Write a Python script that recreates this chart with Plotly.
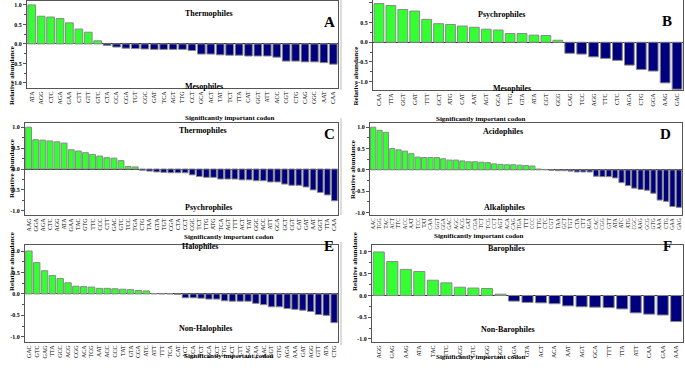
import plotly.graph_objects as go

W, H = 685, 368

codons_A = ["ATA","AGG","CTC","AGA","GAA","CTT","GTT","GTC","CTA","CCA","CGA","TGT","CGC","GAT","TCA","AGT","TTG","CCT","GCA","ACT","TAT","TCT","TTA","CAT","GGT","ATT","ACC","CGT","CTG","CAG","GGC","AAT","CAA"]
values_A = [1.0,0.71,0.69,0.65,0.54,0.38,0.30,0.08,-0.04,-0.08,-0.11,-0.12,-0.13,-0.14,-0.14,-0.14,-0.14,-0.17,-0.26,-0.26,-0.28,-0.29,-0.29,-0.31,-0.31,-0.31,-0.34,-0.44,-0.44,-0.46,-0.46,-0.48,-0.52]

codons_B = ["CAA","TTA","GGT","GAT","TTT","GCT","ATG","CAT","AAT","AGT","GCA","TTG","GTA","ATA","CGT","GCG","CAG","TCC","AGG","TTC","CTC","AGA","CTG","GGA","AAG","GAC"]
values_B = [0.98,0.93,0.83,0.79,0.58,0.47,0.45,0.41,0.38,0.33,0.31,0.22,0.22,0.18,0.17,0.05,-0.28,-0.30,-0.37,-0.41,-0.46,-0.58,-0.69,-0.73,-1.03,-1.19]

codons_C = ["AAG","GGA","AGA","CTC","AGG","ATA","GAA","TAC","GTG","TTC","CCC","CTT","GAC","GTC","TCC","TGA","CTG","TAA","GTA","TGT","CGA","CTA","CCT","CGC","TCT","TTG","ATG","TCA","AGT","TTT","ACT","TAT","GGC","ACC","ATT","GCA","GCT","CGT","CAT","GAT","AAT","GGT","TTA","CAA"]
values_C = [1.0,0.70,0.69,0.67,0.65,0.62,0.46,0.43,0.39,0.35,0.31,0.27,0.26,0.20,0.06,0.05,-0.03,-0.05,-0.07,-0.08,-0.09,-0.09,-0.09,-0.14,-0.18,-0.20,-0.20,-0.24,-0.24,-0.24,-0.26,-0.26,-0.28,-0.28,-0.31,-0.31,-0.36,-0.39,-0.39,-0.43,-0.50,-0.56,-0.62,-0.76]

codons_D = ["AAC","TGG","TAC","ACT","TTC","ACC","AAT","TCC","TAT","CAA","GGT","GGA","GAC","AGC","ACG","GAT","CGA","TCT","TCG","CCT","AGT","ACA","CAG","TGA","TTT","CCC","TTG","CTC","CGT","TAA","GCT","TGT","CTA","CTT","AGA","CAC","CGG","GTT","ATA","ATC","ATG","CGC","AAG","GCG","GTG","AAA","CTG","GAA","GAG"]
values_D = [1.0,0.93,0.88,0.50,0.47,0.44,0.38,0.30,0.29,0.29,0.29,0.26,0.23,0.23,0.21,0.19,0.19,0.18,0.17,0.14,0.13,0.12,0.12,0.11,0.10,0.09,0.02,0.01,-0.01,-0.02,-0.02,-0.03,-0.05,-0.05,-0.05,-0.15,-0.16,-0.16,-0.19,-0.30,-0.37,-0.43,-0.46,-0.48,-0.55,-0.71,-0.74,-0.86,-0.88]

codons_E = ["GAC","GTC","GAG","TTA","GCC","ACG","CGG","ACA","TCG","AAT","ACC","CCC","TAT","GTA","CGA","ATC","ATT","TTT","TCA","CAT","ACT","CCA","TCT","GCA","CCT","TTG","GCT","CTT","CAG","GAA","AAC","GGT","GTG","AGA","AAA","GAT","AGG","GTT","ATA","CTG"]
values_E = [1.0,0.73,0.54,0.43,0.36,0.26,0.18,0.17,0.16,0.13,0.13,0.12,0.11,0.10,0.08,0.07,0.01,0.005,0.005,-0.01,-0.09,-0.09,-0.10,-0.12,-0.12,-0.16,-0.17,-0.17,-0.17,-0.22,-0.25,-0.30,-0.30,-0.34,-0.36,-0.38,-0.41,-0.48,-0.50,-0.67]

codons_F = ["AGG","GAG","AAG","ATA","TAC","TTC","ACG","GTC","GGG","GCG","AGA","GTA","ACT","ACA","AAT","AGT","GCA","TTT","TTA","ATT","CAA","GAA","AAA"]
values_F = [1.0,0.78,0.60,0.55,0.35,0.29,0.19,0.17,0.16,0.03,-0.13,-0.16,-0.17,-0.19,-0.24,-0.26,-0.27,-0.28,-0.31,-0.40,-0.43,-0.45,-0.60]

panels = [
    dict(letter="A", codons=codons_A, values=values_A, top="Thermophiles", bottom="Mesophiles",
         box=(27, 338, 1, 88), yr=(-1.13, 1.1), toppos=(183, 7), botpos=(183, 80), ytitle_x=6, xtitle_y=112),
    dict(letter="B", codons=codons_B, values=values_B, top="Psychrophiles", bottom="Mesophiles",
         box=(373, 683, 0, 90), yr=(-1.21, 1.07), toppos=(527, 8), botpos=(533, 82), ytitle_x=355, xtitle_y=113),
    dict(letter="C", codons=codons_C, values=values_C, top="Thermophiles", bottom="Psychrophiles",
         box=(25, 338, 123, 215), yr=(-1.1, 1.1), toppos=(177, 130), botpos=(183, 208), ytitle_x=6, xtitle_y=237),
    dict(letter="D", codons=codons_D, values=values_D, top="Acidophiles", bottom="Alkaliphiles",
         box=(370, 682, 123, 215), yr=(-1.06, 1.1), toppos=(525, 131), botpos=(527, 208), ytitle_x=353, xtitle_y=236),
    dict(letter="E", codons=codons_E, values=values_E, top="Halophiles", bottom="Non-Halophiles",
         box=(25, 338, 245, 342), yr=(-1.12, 1.14), toppos=(180, 253), botpos=(177, 335), ytitle_x=6, xtitle_y=362),
    dict(letter="F", codons=codons_F, values=values_F, top="Barophiles", bottom="Non-Barophiles",
         box=(372, 683, 245, 342), yr=(-1.07, 1.16), toppos=(527, 255), botpos=(537, 336), ytitle_x=355, xtitle_y=363),
]

GREEN = "#33ff33"
NAVY = "#00007f"
SERIF = "Liberation Serif"

fig = go.Figure()
annotations = []
shapes = []

def px_x(p):
    return p / W

def px_y(p):
    return 1 - p / H

for i, p in enumerate(panels, start=1):
    xa = "x" if i == 1 else f"x{i}"
    ya = "y" if i == 1 else f"y{i}"
    colors = [GREEN if v > 0 else NAVY for v in p["values"]]
    fig.add_trace(go.Bar(
        x=p["codons"], y=p["values"], xaxis=xa, yaxis=ya,
        marker=dict(color=colors, line=dict(color="#8a8a8a", width=1)),
        showlegend=False, hoverinfo="x+y",
    ))
    x0, x1, y0, y1 = p["box"]
    xkey = "xaxis" if i == 1 else f"xaxis{i}"
    ykey = "yaxis" if i == 1 else f"yaxis{i}"
    fsize = 5.5 if len(p["codons"]) > 45 else 6
    fig.update_layout(**{
        xkey: dict(domain=[px_x(x0), px_x(x1)], anchor=ya, tickangle=-90, automargin=False,
                   tickmode="array", tickvals=p["codons"], ticktext=p["codons"],
                   tickfont=dict(family=SERIF, size=fsize, color="black"),
                   showline=True, mirror=True, linecolor="#555555", linewidth=1,
                   ticks="", showgrid=False, categoryorder="array", categoryarray=p["codons"]),
        ykey: dict(domain=[px_y(y1), px_y(y0)], anchor=xa, range=list(p["yr"]), automargin=False,
                   tickvals=[-1.0, -0.5, 0.0, 0.5, 1.0], ticktext=["-1.0", "-0.5", "0.0", "0.5", "1.0"],
                   tickfont=dict(family=SERIF, size=6, color="black", weight="bold"),
                   ticks="outside", ticklen=3, tickcolor="#555555",
                   minor=dict(ticks="outside", tickvals=[-0.75, -0.25, 0.25, 0.75], ticklen=2, tickcolor="#555555"),
                   showline=True, mirror=True, linecolor="#555555", linewidth=1,
                   showgrid=False, zeroline=True, zerolinecolor="#333333", zerolinewidth=1),
    })
    annotations.append(dict(text=f"<b>{p['top']}</b>", x=px_x(p["toppos"][0]), y=px_y(p["toppos"][1]),
                            xref="paper", yref="paper", showarrow=False,
                            font=dict(family=SERIF, size=8, color="black")))
    annotations.append(dict(text=f"<b>{p['bottom']}</b>", x=px_x(p["botpos"][0]), y=px_y(p["botpos"][1]),
                            xref="paper", yref="paper", showarrow=False,
                            font=dict(family=SERIF, size=8, color="black")))
    annotations.append(dict(text=f"<b>{p['letter']}</b>", x=px_x(x1 - 9), y=px_y(y0 + 11),
                            xref="paper", yref="paper", showarrow=False,
                            font=dict(family=SERIF, size=15, color="black")))
    annotations.append(dict(text="<b>Relative abundance</b>", x=px_x(p["ytitle_x"]), y=px_y((y0 + y1) / 2),
                            xref="paper", yref="paper", showarrow=False, textangle=-90,
                            font=dict(family=SERIF, size=7, color="black")))
    annotations.append(dict(text="<b>Significantly important codon</b>", x=px_x((x0 + x1) / 2), y=px_y(p["xtitle_y"]),
                            xref="paper", yref="paper", showarrow=False,
                            font=dict(family=SERIF, size=7, color="black")))

for (ya, yb) in [(0, 90), (118, 215), (242, 345)]:
    shapes.append(dict(type="line", xref="paper", yref="paper", x0=px_x(341), x1=px_x(341),
                       y0=px_y(yb), y1=px_y(ya), line=dict(color="#bbbbbb", width=1)))

fig.update_layout(
    width=W, height=H, margin=dict(l=0, r=0, t=0, b=0, autoexpand=False),
    paper_bgcolor="white", plot_bgcolor="white",
    bargap=0.18, annotations=annotations, shapes=shapes,
    font=dict(family=SERIF, color="black"),
)

fig.write_html("out.html", config={"displayModeBar": False},
               post_script="document.body.style.margin='0';document.body.style.overflow='hidden';")
